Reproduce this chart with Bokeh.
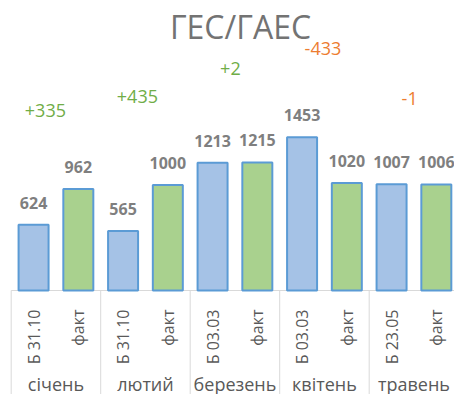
from math import pi
from bokeh.plotting import figure
from bokeh.models import Range1d, ColumnDataSource
from bokeh.core.properties import value
from bokeh.embed import file_html
from bokeh.resources import INLINE

# ---- data ----
title_text = "ГЕС/ГАЕС"
months = ["січень", "лютий", "березень", "квітень", "травень"]
budget_labels = ["Б 31.10", "Б 31.10", "Б 03.03", "Б 03.03", "Б 23.05"]
fact_label = "факт"
budget = [624, 565, 1213, 1453, 1007]
fact = [962, 1000, 1215, 1020, 1006]
diffs = [335, 435, 2, -433, -1]

# ---- layout (pixel geometry) ----
W, H = 454, 394
px_per_group = 89.5          # horizontal pixels per month group
origin_px = 10.7             # x pixel of the first group's left edge
base_px = 290                # y pixel of the value axis zero
px_per_unit = 0.1054         # vertical pixels per unit of value
bar_px = 30                  # bar width in pixels
title_x_px, title_y_px = 240, 25.5
sub_label_top_px = 309       # where the rotated labels end (top)
month_y_px = 383
# anchors of the difference labels (fraction of group, value height)
diff_dx = [0.382, 0.410, 0.449, 0.483, 0.452]
diff_y = [1708, 1841, 2106, 2296, 1822]

FONT = value("Open Sans")
n = len(months)


def xdata(px):
    return (px - origin_px) / px_per_group


def ydata(py):
    return (base_px - py) / px_per_unit


p = figure(width=W, height=H, output_backend="svg", toolbar_location=None,
           x_axis_type=None, y_axis_type=None, min_border=0,
           x_range=Range1d(xdata(0), xdata(W)),
           y_range=Range1d(ydata(H), ydata(0)))
p.outline_line_color = None
p.xgrid.visible = False
p.ygrid.visible = False
p.background_fill_color = "white"
p.border_fill_color = "white"

grid_col = "#d9d9d9"

# category axis frame: baseline and separators
p.segment(x0=[0], y0=[0], x1=[n], y1=[0], line_color=grid_col, line_width=1)
sep_x = list(range(n + 1))
p.segment(x0=sep_x, y0=[0] * len(sep_x), x1=sep_x, y1=[ydata(H)] * len(sep_x),
          line_color=grid_col, line_width=1)

# bars
bx = [i + 0.25 for i in range(n)]
fx = [i + 0.75 for i in range(n)]
bw = bar_px / px_per_group
p.vbar(x=bx, top=budget, bottom=0, width=bw, fill_color="#a5c2e6",
       line_color="#5b9bd5", line_width=2)
p.vbar(x=fx, top=fact, bottom=0, width=bw, fill_color="#a9d18e",
       line_color="#5b9bd5", line_width=2)

# value labels
val_style = dict(text_font=FONT, text_font_size="16px", text_font_style="bold",
                 text_color="#7f7f7f", text_align="center", text_baseline="middle",
                 y_offset=-22)
p.text(x=bx, y=budget, text=[str(v) for v in budget], **val_style)
p.text(x=fx, y=fact, text=[str(v) for v in fact], **val_style)

# difference labels
dsrc = ColumnDataSource(dict(
    x=[i + d for i, d in enumerate(diff_dx)],
    y=diff_y,
    t=[("+%d" % d) if d > 0 else ("%d" % d) for d in diffs],
    c=["#70ad47" if d > 0 else "#ed7d31" for d in diffs],
))
p.text(x="x", y="y", text="t", text_color="c", source=dsrc, text_font=FONT,
       text_font_size="18px", text_align="center", text_baseline="middle")

# rotated sub-category labels
sub_y = ydata(sub_label_top_px)
rot_style = dict(text_font=FONT, text_font_size="16px", text_color="#595959",
                 angle=pi / 2, text_align="right", text_baseline="middle")
p.text(x=bx, y=[sub_y] * n, text=budget_labels, **rot_style)
p.text(x=fx, y=[sub_y] * n, text=[fact_label] * n, **rot_style)

# month labels
mx = [i + 0.5 for i in range(n)]
p.text(x=mx, y=[ydata(month_y_px)] * n, text=months, text_font=FONT,
       text_font_size="18px", text_color="#595959", text_align="center",
       text_baseline="middle")

# title
p.text(x=[xdata(title_x_px)], y=[ydata(title_y_px)], text=[title_text], text_font=FONT,
       text_font_size="32px", text_color="#737373", text_align="center",
       text_baseline="middle")

open("out.html", "w").write(file_html(p, INLINE))
